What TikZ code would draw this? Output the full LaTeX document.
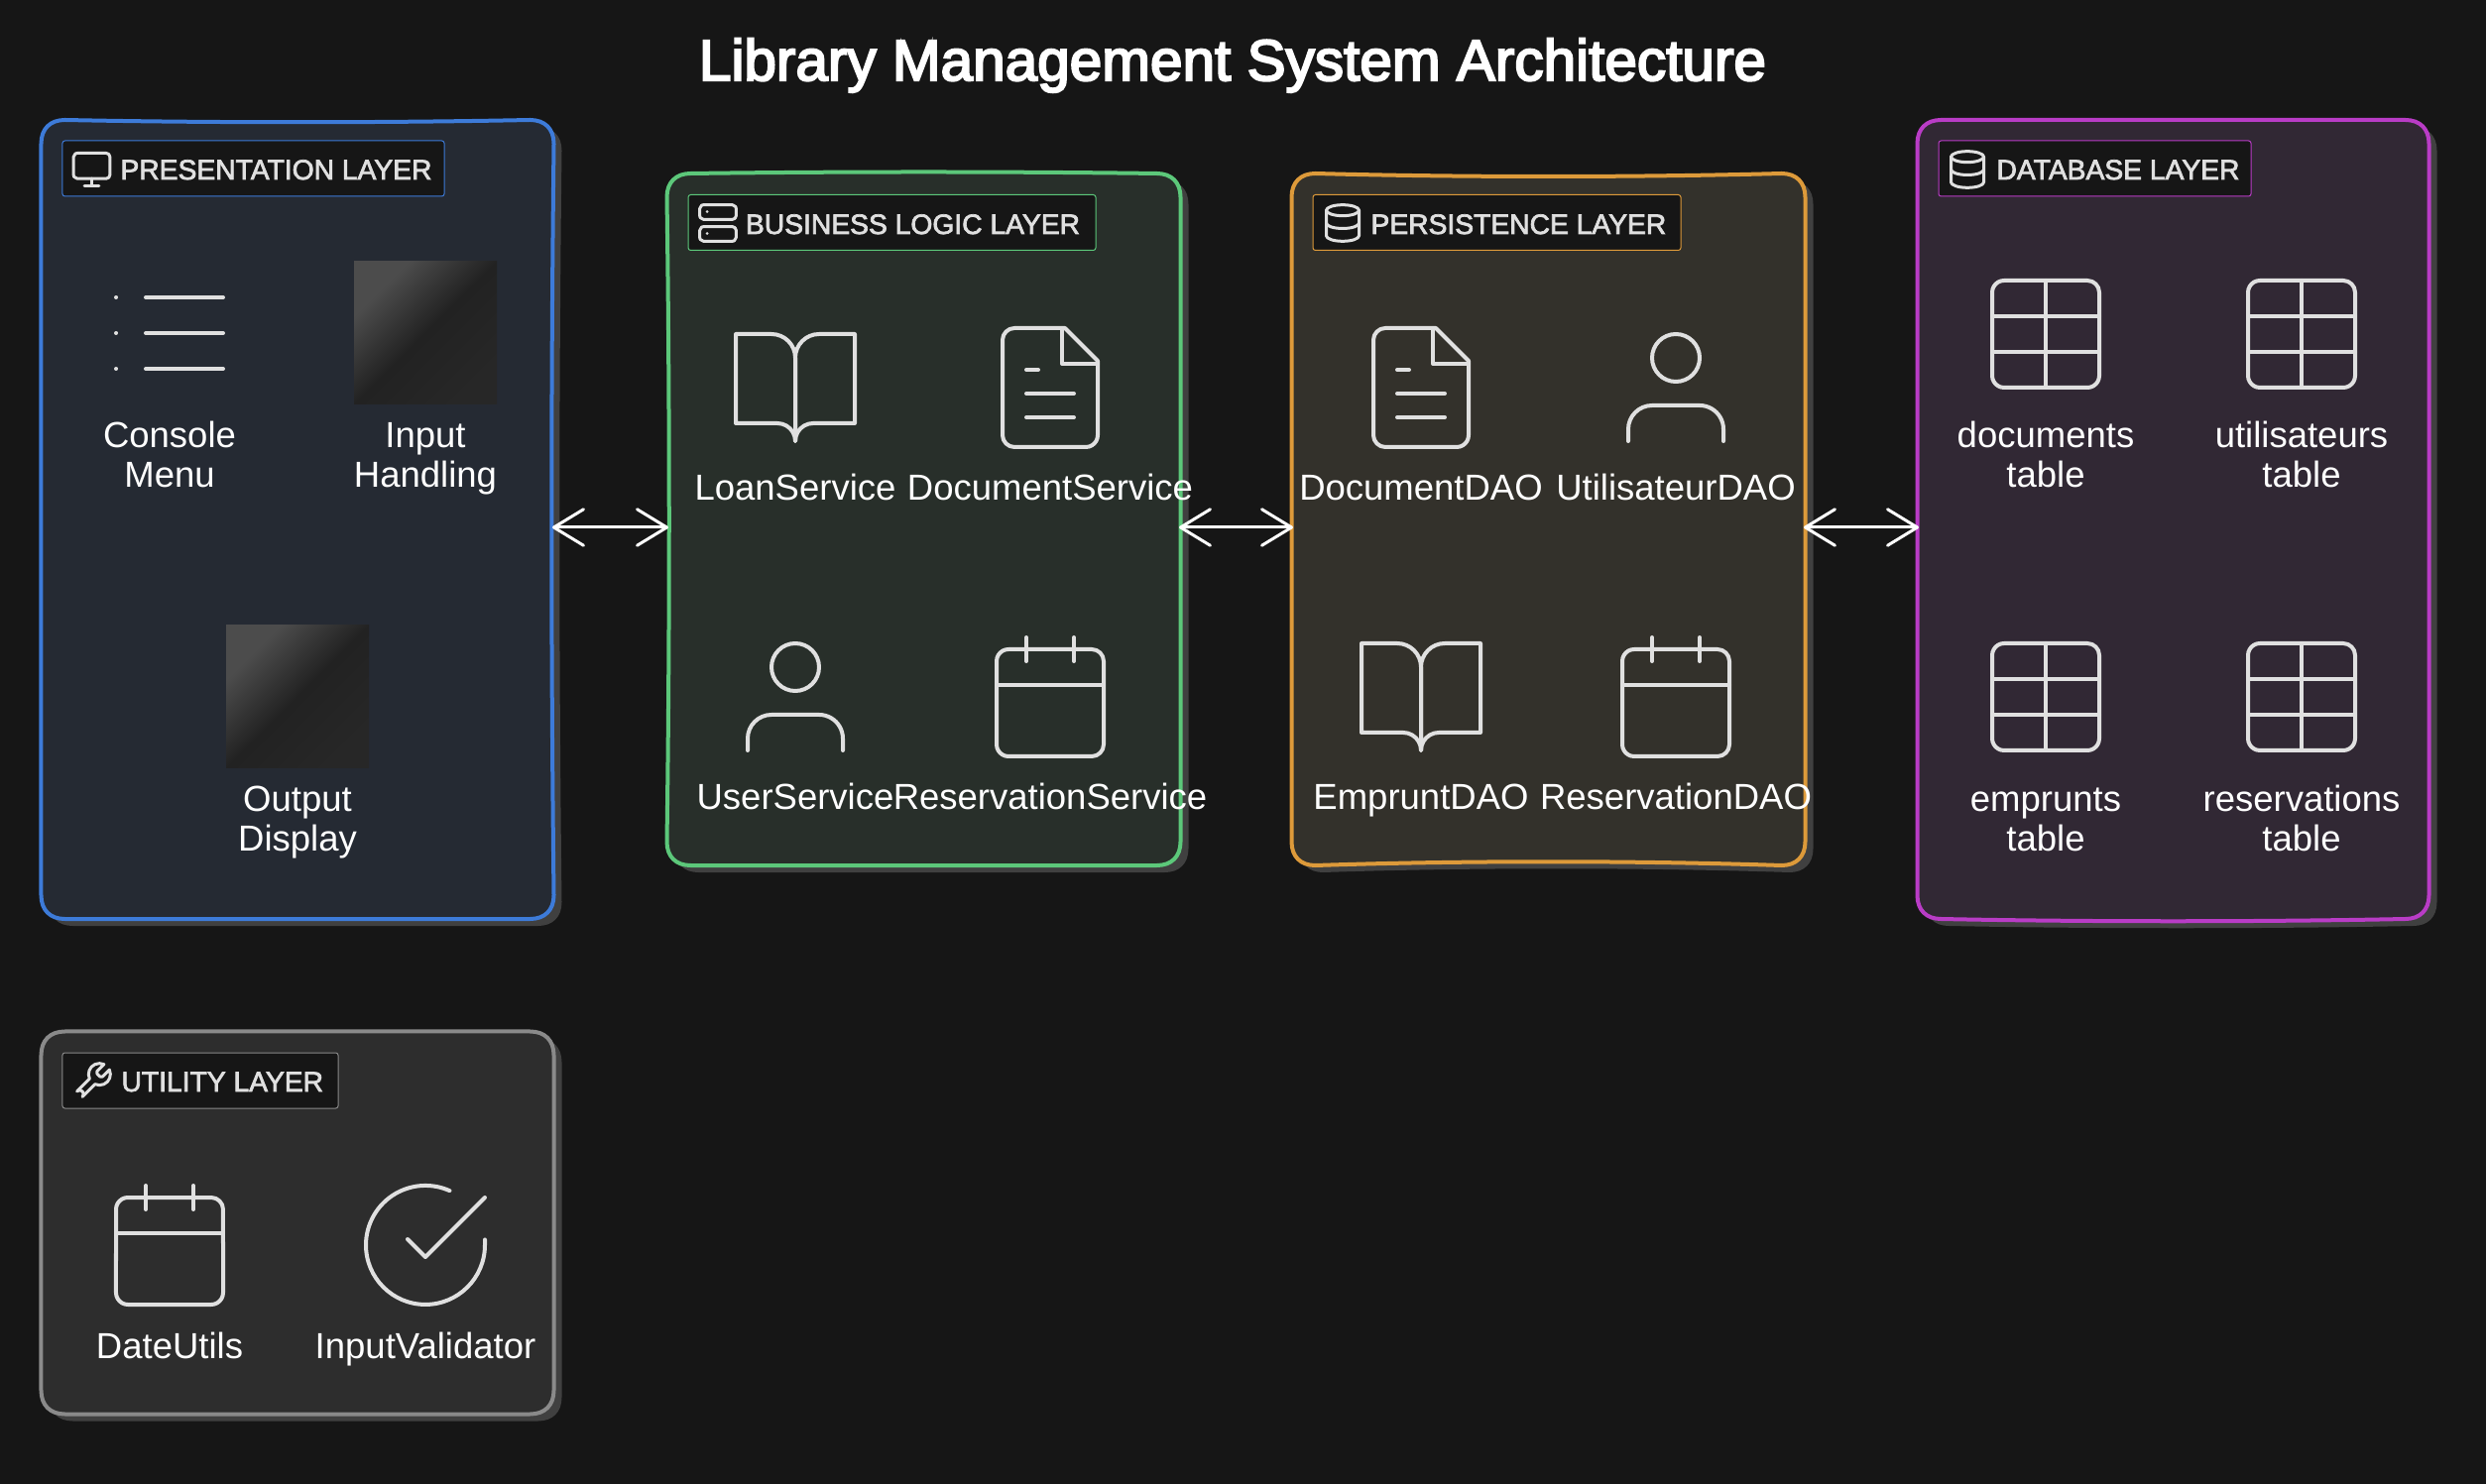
\documentclass[tikz,border=0pt]{standalone}
\usepackage{fontspec}
\setmainfont{Liberation Sans}
\newfontfamily\titlefont{Liberation Sans}[FakeBold=3.5]
\newfontfamily\tagfont{Liberation Sans}[FakeBold=2.5]
\usepackage{tikz}
\usetikzlibrary{calc}
\usetikzlibrary{positioning}
\usetikzlibrary{arrows.meta}
\usetikzlibrary{svg.path}

\definecolor{pagebg}{HTML}{161616}
\definecolor{iconcol}{HTML}{E0E0E0}
\definecolor{shadowcol}{HTML}{404040}
\definecolor{presline}{HTML}{3D7BD9}
\definecolor{presfill}{HTML}{252A33}
\definecolor{bizline}{HTML}{5CC87A}
\definecolor{bizfill}{HTML}{282F2A}
\definecolor{persline}{HTML}{DD9A3A}
\definecolor{persfill}{HTML}{33312B}
\definecolor{dbline}{HTML}{B93CC6}
\definecolor{dbfill}{HTML}{312834}
\definecolor{utilline}{HTML}{8A8A8A}
\definecolor{utilfill}{HTML}{2D2D2D}
\definecolor{imglight}{HTML}{4C4C4C}
\definecolor{imgdark}{HTML}{222222}
\definecolor{imgend}{HTML}{272727}

\pgfdeclareverticalshading{imgshade}{100bp}{color(0bp)=(imgend); color(25bp)=(imgend); color(50bp)=(imgdark); color(72bp)=(imglight); color(100bp)=(imglight)}

% outline of a layer, bows of top, right, bottom and left side
\newcommand{\layeroutline}[5]{
	($(#1.north west)+(24,0)$)
	.. controls ($(#1.north west)!0.33!(#1.north east)+(0,#2)$) and ($(#1.north west)!0.67!(#1.north east)+(0,#2)$) .. ($(#1.north east)+(-24,0)$)
	.. controls ($(#1.north east)+(-9,0)$) and ($(#1.north east)+(0,9)$) .. ($(#1.north east)+(0,24)$)
	.. controls ($(#1.north east)!0.33!(#1.south east)+(#3,0)$) and ($(#1.north east)!0.67!(#1.south east)+(#3,0)$) .. ($(#1.south east)+(0,-24)$)
	.. controls ($(#1.south east)+(0,-9)$) and ($(#1.south east)+(-9,0)$) .. ($(#1.south east)+(-24,0)$)
	.. controls ($(#1.south east)!0.33!(#1.south west)+(0,#4)$) and ($(#1.south east)!0.67!(#1.south west)+(0,#4)$) .. ($(#1.south west)+(24,0)$)
	.. controls ($(#1.south west)+(9,0)$) and ($(#1.south west)+(0,-9)$) .. ($(#1.south west)+(0,-24)$)
	.. controls ($(#1.south west)!0.33!(#1.north west)+(#5,0)$) and ($(#1.south west)!0.67!(#1.north west)+(#5,0)$) .. ($(#1.north west)+(0,24)$)
	.. controls ($(#1.north west)+(0,9)$) and ($(#1.north west)+(9,0)$) .. cycle
}

\tikzset{
	layerbox/.style={inner sep=0pt},
	layerline/.style={line width=1.6pt, line join=round},
	layershadow/.style={fill=shadowcol, transform canvas={shift={(8,7)}}},
	tagbox/.style={draw, line width=0.4pt, fill=pagebg, rounded corners=1pt, inner sep=0pt, minimum height=22.4pt},
	titletext/.style={inner sep=0pt, text=white, font=\titlefont\fontsize{23.4}{26}\selectfont},
	tagtext/.style={anchor=base west, inner sep=0pt, text=iconcol, font=\tagfont\fontsize{11.3}{13}\selectfont},
	itemtext/.style={anchor=base, inner sep=0pt, text=white, align=center, font=\fontsize{14.6}{16}\selectfont},
	imagebox/.style={inner sep=0pt, minimum size=57.6pt, shading=imgshade, shading angle=45},
	bigicon/.style={color=iconcol, line width=1.6pt, line cap=round, line join=round, xscale=2.4, yscale=-2.4, shift={(-12pt,-12pt)}},
	tagicon/.style={color=iconcol, line width=1.2pt, line cap=round, line join=round, xscale=0.733, yscale=-0.733, shift={(-12pt,-12pt)}},
	flow/.style={draw=white, line width=1.2pt, shorten <=-0.6pt, shorten >=-0.6pt, {Straight Barb[round, length=12pt, width=14.6pt]}-{Straight Barb[round, length=12pt, width=14.6pt]}},
	iconbook/.pic={
		\draw svg "M 2 3 h 6 a 4 4 0 0 1 4 4 v 14 a 3 3 0 0 0 -3 -3 H 2 z";
		\draw svg "M 22 3 h -6 a 4 4 0 0 0 -4 4 v 14 a 3 3 0 0 1 3 -3 h 7 z";
	},
	iconfile/.pic={
		\draw svg "M 14.5 2 H 6 a 2 2 0 0 0 -2 2 v 16 a 2 2 0 0 0 2 2 h 12 a 2 2 0 0 0 2 -2 V 7.5 L 14.5 2 z";
		\draw svg "M 14 2 V 8 H 20 M 16 13 H 8 M 16 17 H 8 M 10 9 H 8";
	},
	iconuser/.pic={
		\draw svg "M 20 21 v -2 a 4 4 0 0 0 -4 -4 H 8 a 4 4 0 0 0 -4 4 v 2";
		\draw (12pt, 7pt) circle [radius=4pt];
	},
	iconcal/.pic={
		\draw svg "M 5 4 h 14 a 2 2 0 0 1 2 2 v 14 a 2 2 0 0 1 -2 2 H 5 a 2 2 0 0 1 -2 -2 V 6 a 2 2 0 0 1 2 -2 z";
		\draw svg "M 16 2 V 6 M 8 2 V 6 M 3 10 H 21";
	},
	icontable/.pic={
		\draw svg "M 5 3 h 14 a 2 2 0 0 1 2 2 v 14 a 2 2 0 0 1 -2 2 H 5 a 2 2 0 0 1 -2 -2 V 5 a 2 2 0 0 1 2 -2 z";
		\draw svg "M 3 9 H 21 M 3 15 H 21 M 12 3 V 21";
	},
	iconcheck/.pic={
		\draw svg "M 22 11.08 V 12 a 10 10 0 1 1 -5.93 -9.14";
		\draw svg "M 22 4 L 12 14.01 L 9 11.01";
	},
	iconlist/.pic={
		\draw svg "M 8 6 H 21 M 8 12 H 21 M 8 18 H 21 M 3 6 h 0.01 M 3 12 h 0.01 M 3 18 h 0.01";
	},
	iconmonitor/.pic={
		\draw svg "M 4 3 h 16 a 2 2 0 0 1 2 2 v 10 a 2 2 0 0 1 -2 2 H 4 a 2 2 0 0 1 -2 -2 V 5 a 2 2 0 0 1 2 -2 z";
		\draw svg "M 8 21 H 16 M 12 17 V 21";
	},
	iconserver/.pic={
		\draw svg "M 4 2 h 16 a 2 2 0 0 1 2 2 v 4 a 2 2 0 0 1 -2 2 H 4 a 2 2 0 0 1 -2 -2 V 4 a 2 2 0 0 1 2 -2 z";
		\draw svg "M 4 14 h 16 a 2 2 0 0 1 2 2 v 4 a 2 2 0 0 1 -2 2 H 4 a 2 2 0 0 1 -2 -2 v -4 a 2 2 0 0 1 2 -2 z";
		\draw svg "M 6 6 h 0.01 M 6 18 h 0.01";
	},
	icondb/.pic={
		\draw (12pt, 5pt) ellipse [x radius=9pt, y radius=3pt];
		\draw svg "M 21 12 c 0 1.66 -4 3 -9 3 s -9 -1.34 -9 -3";
		\draw svg "M 3 5 v 14 c 0 1.66 4 3 9 3 s 9 -1.34 9 -3 V 5";
	},
	iconwrench/.pic={
		\draw svg "M 14.7 6.3 a 1 1 0 0 0 0 1.4 l 1.6 1.6 a 1 1 0 0 0 1.4 0 l 3.77 -3.77 a 6 6 0 0 1 -7.94 7.94 l -6.91 6.91 a 2.12 2.12 0 0 1 -3 -3 l 6.91 -6.91 a 6 6 0 0 1 7.94 -7.94 l -3.76 3.76 z";
	},
}

\begin{document}
\begin{tikzpicture}[x=0.4pt, y=-0.4pt]
		\fill[pagebg] (0, 0) rectangle (2507, 1497);
		\useasboundingbox (0, 0) rectangle (2507, 1497);

		\node[titletext] (title) at (1243, 66) {Library Management System Architecture};

		\node[layerbox, minimum width=206.4pt, minimum height=322pt] (pres) at (300, 524) {};
		\node[layerbox, minimum width=206.8pt, minimum height=278.8pt] (biz) at (931.5, 524) {};
		\node[layerbox, minimum width=206.8pt, minimum height=278.8pt] (pers) at (1561.5, 524) {};
		\node[layerbox, minimum width=206pt, minimum height=322pt] (db) at (2191.5, 524) {};
		\node[layerbox, minimum width=206.4pt, minimum height=154pt] (util) at (300, 1233.5) {};

		\fill[layershadow] \layeroutline{pres}{3}{-3}{0}{0};
		\fill[layershadow] \layeroutline{biz}{-2}{0}{0}{3};
		\fill[layershadow] \layeroutline{pers}{4}{0}{-5}{0};
		\fill[layershadow] \layeroutline{db}{0}{0}{3}{0};
		\fill[layershadow] \layeroutline{util}{0}{0}{0}{0};
		\draw[layerline, draw=presline, fill=presfill] \layeroutline{pres}{3}{-3}{0}{0};
		\draw[layerline, draw=bizline, fill=bizfill] \layeroutline{biz}{-2}{0}{0}{3};
		\draw[layerline, draw=persline, fill=persfill] \layeroutline{pers}{4}{0}{-5}{0};
		\draw[layerline, draw=dbline, fill=dbfill] \layeroutline{db}{0}{0}{3}{0};
		\draw[layerline, draw=utilline, fill=utilfill] \layeroutline{util}{0}{0}{0}{0};

		\draw[flow] ([yshift=-3.2pt]pres.east) -- ([yshift=-3.2pt]biz.west);
		\draw[flow] ([yshift=-3.2pt]biz.east) -- ([yshift=-3.2pt]pers.west);
		\draw[flow] ([yshift=-3.2pt]pers.east) -- ([yshift=-3.2pt]db.west);

		\node[tagbox, draw=presline, minimum width=154pt] (prestag) at (255.5, 170) {};
		\node[tagbox, draw=bizline, minimum width=164.4pt] (biztag) at (899.5, 224.5) {};
		\node[tagbox, draw=persline, minimum width=148.4pt] (perstag) at (1509.5, 224.5) {};
		\node[tagbox, draw=dbline, minimum width=126pt] (dbtag) at (2112.5, 170) {};
		\node[tagbox, draw=utilline, minimum width=111.2pt] (utiltag) at (202, 1090) {};

		\pic[tagicon] at (92.5, 171) {iconmonitor};
		\pic[tagicon] at (724, 225) {iconserver};
		\pic[tagicon] at (1354, 225) {icondb};
		\pic[tagicon] at (1984, 171) {icondb};
		\pic[tagicon] at (93, 1091) {iconwrench};

		\node[tagtext] (presname) at (121, 181) {PRESENTATION LAYER};
		\node[tagtext] (bizname) at (751.5, 236) {BUSINESS LOGIC LAYER};
		\node[tagtext] (persname) at (1382, 236) {PERSISTENCE LAYER};
		\node[tagtext] (dbname) at (2013, 181) {DATABASE LAYER};
		\node[tagtext] (utilname) at (122, 1101) {UTILITY LAYER};

		% presentation
		\pic[bigicon] at (171, 336) {iconlist};
		\node[imagebox] (inputimg) at (429, 336) {};
		\node[imagebox] (outputimg) at (300, 703) {};
		\node[itemtext] (menu) at (171, 492) {Console\\Menu};
		\node[itemtext] (input) at (429, 492) {Input\\Handling};
		\node[itemtext] (output) at (300, 859) {Output\\Display};

		% business
		\pic[bigicon] at (802, 391) {iconbook};
		\pic[bigicon] at (1059, 391) {iconfile};
		\pic[bigicon] at (802, 703) {iconuser};
		\pic[bigicon] at (1059, 703) {iconcal};
		\node[itemtext] (loan) at (802, 505) {LoanService};
		\node[itemtext] (docserv) at (1059, 505) {DocumentService};
		\node[itemtext] (userserv) at (802, 817) {UserService};
		\node[itemtext] (resserv) at (1059, 817) {ReservationService};

		% persistence
		\pic[bigicon] at (1433, 391) {iconfile};
		\pic[bigicon] at (1690, 391) {iconuser};
		\pic[bigicon] at (1433, 703) {iconbook};
		\pic[bigicon] at (1690, 703) {iconcal};
		\node[itemtext] (docdao) at (1433, 505) {DocumentDAO};
		\node[itemtext] (userdao) at (1690, 505) {UtilisateurDAO};
		\node[itemtext] (empdao) at (1433, 817) {EmpruntDAO};
		\node[itemtext] (resdao) at (1690, 817) {ReservationDAO};

		% database
		\pic[bigicon] at (2063, 337) {icontable};
		\pic[bigicon] at (2321, 337) {icontable};
		\pic[bigicon] at (2063, 703) {icontable};
		\pic[bigicon] at (2321, 703) {icontable};
		\node[itemtext] (doctab) at (2063, 492) {documents\\table};
		\node[itemtext] (usertab) at (2321, 492) {utilisateurs\\table};
		\node[itemtext] (emptab) at (2063, 859) {emprunts\\table};
		\node[itemtext] (restab) at (2321, 859) {reservations\\table};

		% utility
		\pic[bigicon] at (171, 1256) {iconcal};
		\pic[bigicon] at (429, 1256) {iconcheck};
		\node[itemtext] (dateutil) at (171, 1370) {DateUtils};
		\node[itemtext] (validator) at (429, 1370) {InputValidator};
\end{tikzpicture}
\end{document}
